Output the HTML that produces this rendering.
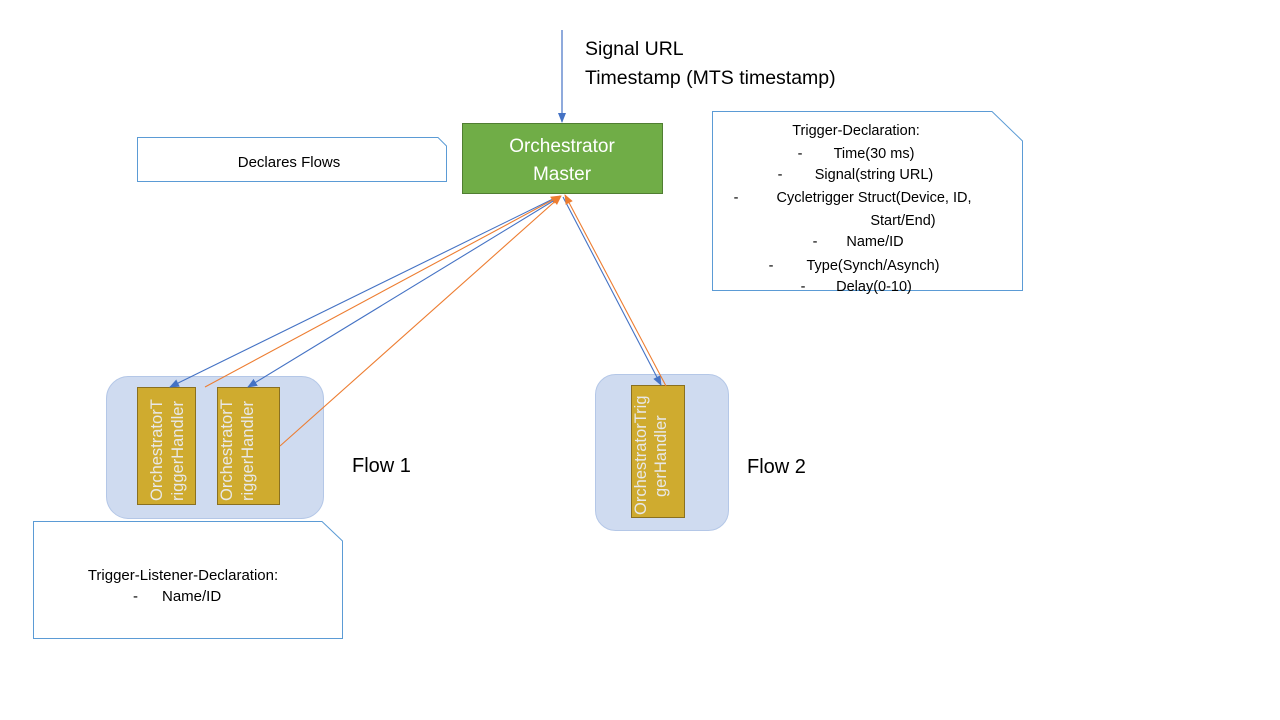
<!DOCTYPE html>
<html><head><meta charset="utf-8"><style>
html,body{margin:0;padding:0;background:#fff;}
svg{display:block;font-family:"Liberation Sans",sans-serif;}
</style></head><body>
<svg width="1280" height="720" viewBox="0 0 1280 720" xmlns="http://www.w3.org/2000/svg">
<defs>
<marker id="ab" markerWidth="10" markerHeight="10" refX="9" refY="5" orient="auto" markerUnits="userSpaceOnUse"><path d="M0,1 L10,5 L0,9 z" fill="#4472c4"/></marker>
<marker id="ao" markerWidth="10" markerHeight="10" refX="9" refY="5" orient="auto" markerUnits="userSpaceOnUse"><path d="M0,1 L10,5 L0,9 z" fill="#ed7d31"/></marker>
</defs>
<rect width="1280" height="720" fill="#fff"/>
<line x1="562" y1="30" x2="562" y2="122" stroke="#4472c4" stroke-width="1.2" marker-end="url(#ab)"/>
<text x="585" y="55" font-size="19.5" fill="#000">Signal URL</text>
<text x="585" y="84" font-size="19.5" fill="#000">Timestamp (MTS timestamp)</text>
<rect x="462.5" y="123.5" width="200" height="70" fill="#70ad47" stroke="#507e32"/>
<text x="562" y="152" font-size="19" fill="#fff" text-anchor="middle">Orchestrator</text>
<text x="562" y="180" font-size="19" fill="#fff" text-anchor="middle">Master</text>
<path d="M137.5,137.5 H438 L446.5,146 V181.5 H137.5 Z" fill="#fff" stroke="#5b9bd5"/>
<text x="289" y="167" font-size="15" text-anchor="middle">Declares Flows</text>
<path d="M712.5,111.5 H992 L1022.5,141 V290.5 H712.5 Z" fill="#fff" stroke="#5b9bd5"/>
<g font-size="14.5" text-anchor="middle">
<text x="856" y="135">Trigger-Declaration:</text>
<text x="800" y="158">-</text><text x="874" y="158">Time(30 ms)</text>
<text x="780" y="179">-</text><text x="874" y="179">Signal(string URL)</text>
<text x="736" y="202">-</text><text x="874" y="202">Cycletrigger Struct(Device, ID,</text>
<text x="903" y="225">Start/End)</text>
<text x="815" y="246">-</text><text x="875" y="246">Name/ID</text>
<text x="771" y="270">-</text><text x="873" y="270">Type(Synch/Asynch)</text>
<text x="803" y="291">-</text><text x="874" y="291">Delay(0-10)</text>
</g>
<path d="M33.5,521.5 H322 L342.5,541 V638.5 H33.5 Z" fill="#fff" stroke="#5b9bd5"/>
<text x="183" y="580" font-size="15" text-anchor="middle">Trigger-Listener-Declaration:</text>
<text x="133" y="601" font-size="15">-</text>
<text x="162" y="601" font-size="15">Name/ID</text>
<rect x="106.5" y="376.5" width="217" height="142" rx="22" fill="#cfdbf0" stroke="#b4c7e7"/>
<rect x="595.5" y="374.5" width="133" height="156" rx="20" fill="#cfdbf0" stroke="#b4c7e7"/>
<text x="352" y="472" font-size="20">Flow 1</text>
<text x="747" y="473" font-size="20">Flow 2</text>
<rect x="137.5" y="387.5" width="58" height="117" fill="#cfab2f" stroke="#8a7020"/>
<rect x="217.5" y="387.5" width="62" height="117" fill="#cfab2f" stroke="#8a7020"/>
<rect x="631.5" y="385.5" width="53" height="132" fill="#cfab2f" stroke="#8a7020"/>
<g font-size="16.5" fill="#e8e8e8">
<text transform="translate(162,501) rotate(-90)">OrchestratorT</text>
<text transform="translate(183,501) rotate(-90)">riggerHandler</text>
<text transform="translate(232,501) rotate(-90)">OrchestratorT</text>
<text transform="translate(253,501) rotate(-90)">riggerHandler</text>
<text transform="translate(646,515) rotate(-90)">OrchestratorTrig</text>
<text transform="translate(666,497) rotate(-90)">gerHandler</text>
</g>
<line x1="557" y1="197" x2="170" y2="387" stroke="#4472c4" stroke-width="1.1" marker-end="url(#ab)"/>
<line x1="205" y1="387" x2="560" y2="196" stroke="#ed7d31" stroke-width="1.1" marker-end="url(#ao)"/>
<line x1="558" y1="198" x2="248" y2="387" stroke="#4472c4" stroke-width="1.1" marker-end="url(#ab)"/>
<line x1="280" y1="446" x2="561" y2="196" stroke="#ed7d31" stroke-width="1.1" marker-end="url(#ao)"/>
<line x1="563" y1="197" x2="661" y2="385" stroke="#4472c4" stroke-width="1.1" marker-end="url(#ab)"/>
<line x1="666" y1="386" x2="565" y2="195" stroke="#ed7d31" stroke-width="1.1" marker-end="url(#ao)"/>
</svg>
</body></html>
